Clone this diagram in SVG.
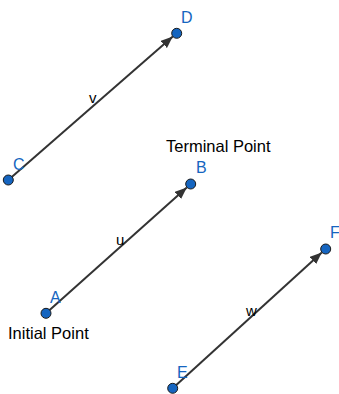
<svg xmlns="http://www.w3.org/2000/svg" width="339" height="394" viewBox="0 0 339 394">
<style>
.vec{stroke:#333;stroke-width:2;fill:none;marker-end:url(#ah)}
.pt{fill:#1565c0;stroke:#1a1a1a;stroke-width:1}
.pl{font-family:"Liberation Sans",Arial,sans-serif;font-size:16px;fill:#1565c0}
.vl{font-family:"Liberation Sans",Arial,sans-serif;font-size:15px;fill:#000}
.tx{font-family:"Liberation Sans",Arial,sans-serif;font-size:16.5px;fill:#000}
</style>
<defs>
<marker id="ah" viewBox="0 0 10 8" refX="10" refY="4" markerWidth="6" markerHeight="4.8" orient="auto" markerUnits="strokeWidth">
<path d="M0,0 L10,4 L0,8 Z" fill="#333"/>
</marker>
</defs>
<rect width="339" height="394" fill="#fff"/>
<g id="connectors">
<line class="vec" x1="8.3" y1="180" x2="172.8" y2="36.6"/>
<line class="vec" x1="46" y1="313.3" x2="186.8" y2="187.4"/>
<line class="vec" x1="172.7" y1="388.3" x2="321.8" y2="252.4"/>
</g>
<g id="label-v"><text class="vl" x="89" y="103">v</text></g>
<g id="label-u"><text class="vl" x="116" y="245">u</text></g>
<g id="label-w"><text class="vl" x="246" y="316">w</text></g>
<g id="C"><circle class="pt" cx="8.3" cy="180" r="5"/><text class="pl" x="13" y="170">C</text></g>
<g id="D"><circle class="pt" cx="176.7" cy="33.3" r="5"/><text class="pl" x="181" y="23">D</text></g>
<g id="A"><circle class="pt" cx="46" cy="313.3" r="5"/><text class="pl" x="50" y="303">A</text></g>
<g id="B"><circle class="pt" cx="190.7" cy="184" r="5"/><text class="pl" x="196" y="173">B</text></g>
<g id="E"><circle class="pt" cx="172.7" cy="388.3" r="5"/><text class="pl" x="177" y="378">E</text></g>
<g id="F"><circle class="pt" cx="325.7" cy="249" r="5"/><text class="pl" x="330" y="238">F</text></g>
<g id="terminal-point"><text class="tx" x="166" y="152">Terminal Point</text></g>
<g id="initial-point"><text class="tx" x="8" y="339">Initial Point</text></g>
</svg>
